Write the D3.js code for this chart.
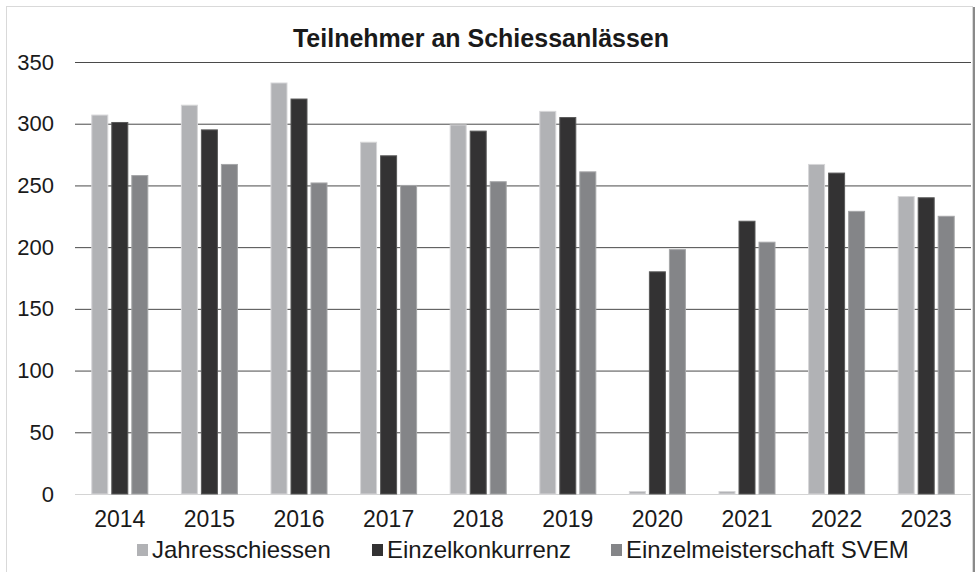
<!DOCTYPE html>
<html>
<head>
<meta charset="utf-8">
<script src="https://cdn.jsdelivr.net/npm/d3@7"></script>
<style>
  body { margin: 0; background: #fff; }
  svg { display: block; font-family: "Liberation Sans", Arial, sans-serif; }
</style>
</head>
<body>
<div id="chart"></div>
<script>
const years = ["2014", "2015", "2016", "2017", "2018", "2019", "2020", "2021", "2022", "2023"];
const seriesNames = ["Jahresschiessen", "Einzelkonkurrenz", "Einzelmeisterschaft SVEM"];
const jahresschiessen = [307, 315, 333, 285, 299, 310, 2, 2, 267, 241];
const einzelkonkurrenz = [301, 295, 320, 274, 294, 305, 180, 221, 260, 240];
const einzelmeisterschaft = [258, 267, 252, 250, 253, 261, 198, 204, 229, 225];
const yTicks = [0, 50, 100, 150, 200, 250, 300, 350];

const fills = ["#b1b2b5", "#333233", "#848588"];
const strokes = ["#d6d6d8", "#5a5a5a", "#a5a6a8"];

const W = 979, H = 572;
const margin = { top: 62, right: 8, bottom: 78, left: 75 };
const width = 971 - margin.left;
const height = H - margin.top - margin.bottom;

const rows = years.map((y, i) => ({
  year: y,
  values: [jahresschiessen[i], einzelkonkurrenz[i], einzelmeisterschaft[i]]
}));

const svg = d3.select("#chart")
  .append("svg")
  .attr("width", W)
  .attr("height", H);

// chart frame
svg.append("rect")
  .attr("x", 6.5).attr("y", 6.5)
  .attr("width", 966).attr("height", H)
  .attr("fill", "none")
  .attr("stroke", "#d9d9d9");
svg.append("line")
  .attr("x1", 974).attr("x2", 974)
  .attr("y1", 7).attr("y2", H)
  .attr("stroke", "#8a8a8a")
  .attr("stroke-width", 2);

const g = svg.append("g")
  .attr("transform", `translate(${margin.left},${margin.top})`);

const x0 = d3.scaleBand()
  .domain(years)
  .range([0, width])
  .paddingInner(0.33)
  .paddingOuter(0.165);

const x1 = d3.scaleBand()
  .domain(d3.range(3))
  .range([0, x0.bandwidth()])
  .paddingInner(0.2)
  .paddingOuter(0.1);

const y = d3.scaleLinear()
  .domain([0, 350])
  .range([height, 0]);

// gridlines + y labels
const yAxis = g.append("g")
  .call(d3.axisLeft(y).tickValues(yTicks).tickSize(-width).tickPadding(21))
  .call(s => s.select(".domain").remove());
yAxis.selectAll(".tick line")
  .attr("stroke", d => d === 0 ? "#d4d4d4" : "#4a4a4a")
  .attr("stroke-width", 1);
yAxis.selectAll(".tick text")
  .attr("fill", "#1a1a1a")
  .style("font-size", "22px");

// bars
const groups = g.selectAll(".year")
  .data(rows)
  .enter().append("g")
  .attr("class", "year")
  .attr("transform", d => `translate(${x0(d.year)},0)`);

groups.selectAll("rect")
  .data(d => d.values.map((v, i) => ({ i, v })))
  .enter().append("rect")
  .attr("x", d => x1(d.i))
  .attr("y", d => y(d.v))
  .attr("width", x1.bandwidth())
  .attr("height", d => height - y(d.v))
  .attr("fill", d => fills[d.i])
  .attr("stroke", d => strokes[d.i])
  .attr("stroke-width", 1);

// x labels
const xAxis = g.append("g")
  .attr("transform", `translate(0,${height})`)
  .call(d3.axisBottom(x0).tickSize(0).tickPadding(17))
  .call(s => s.select(".domain").remove());
xAxis.selectAll("text")
  .attr("fill", "#1a1a1a")
  .style("font-size", "23px");

// title
svg.append("text")
  .attr("x", 481)
  .attr("y", 47)
  .attr("text-anchor", "middle")
  .style("font-size", "25px")
  .style("font-weight", "bold")
  .attr("fill", "#1a1a1a")
  .text("Teilnehmer an Schiessanlässen");

// legend
const legendX = [137, 372, 611];
const legend = svg.append("g").attr("transform", "translate(0,558)");
seriesNames.forEach((name, i) => {
  legend.append("rect")
    .attr("x", legendX[i]).attr("y", -14)
    .attr("width", 11).attr("height", 12)
    .attr("fill", fills[i]);
  legend.append("text")
    .attr("x", legendX[i] + 15)
    .attr("y", 0)
    .style("font-size", "24px")
    .attr("fill", "#1a1a1a")
    .text(name);
});
</script>
</body>
</html>
